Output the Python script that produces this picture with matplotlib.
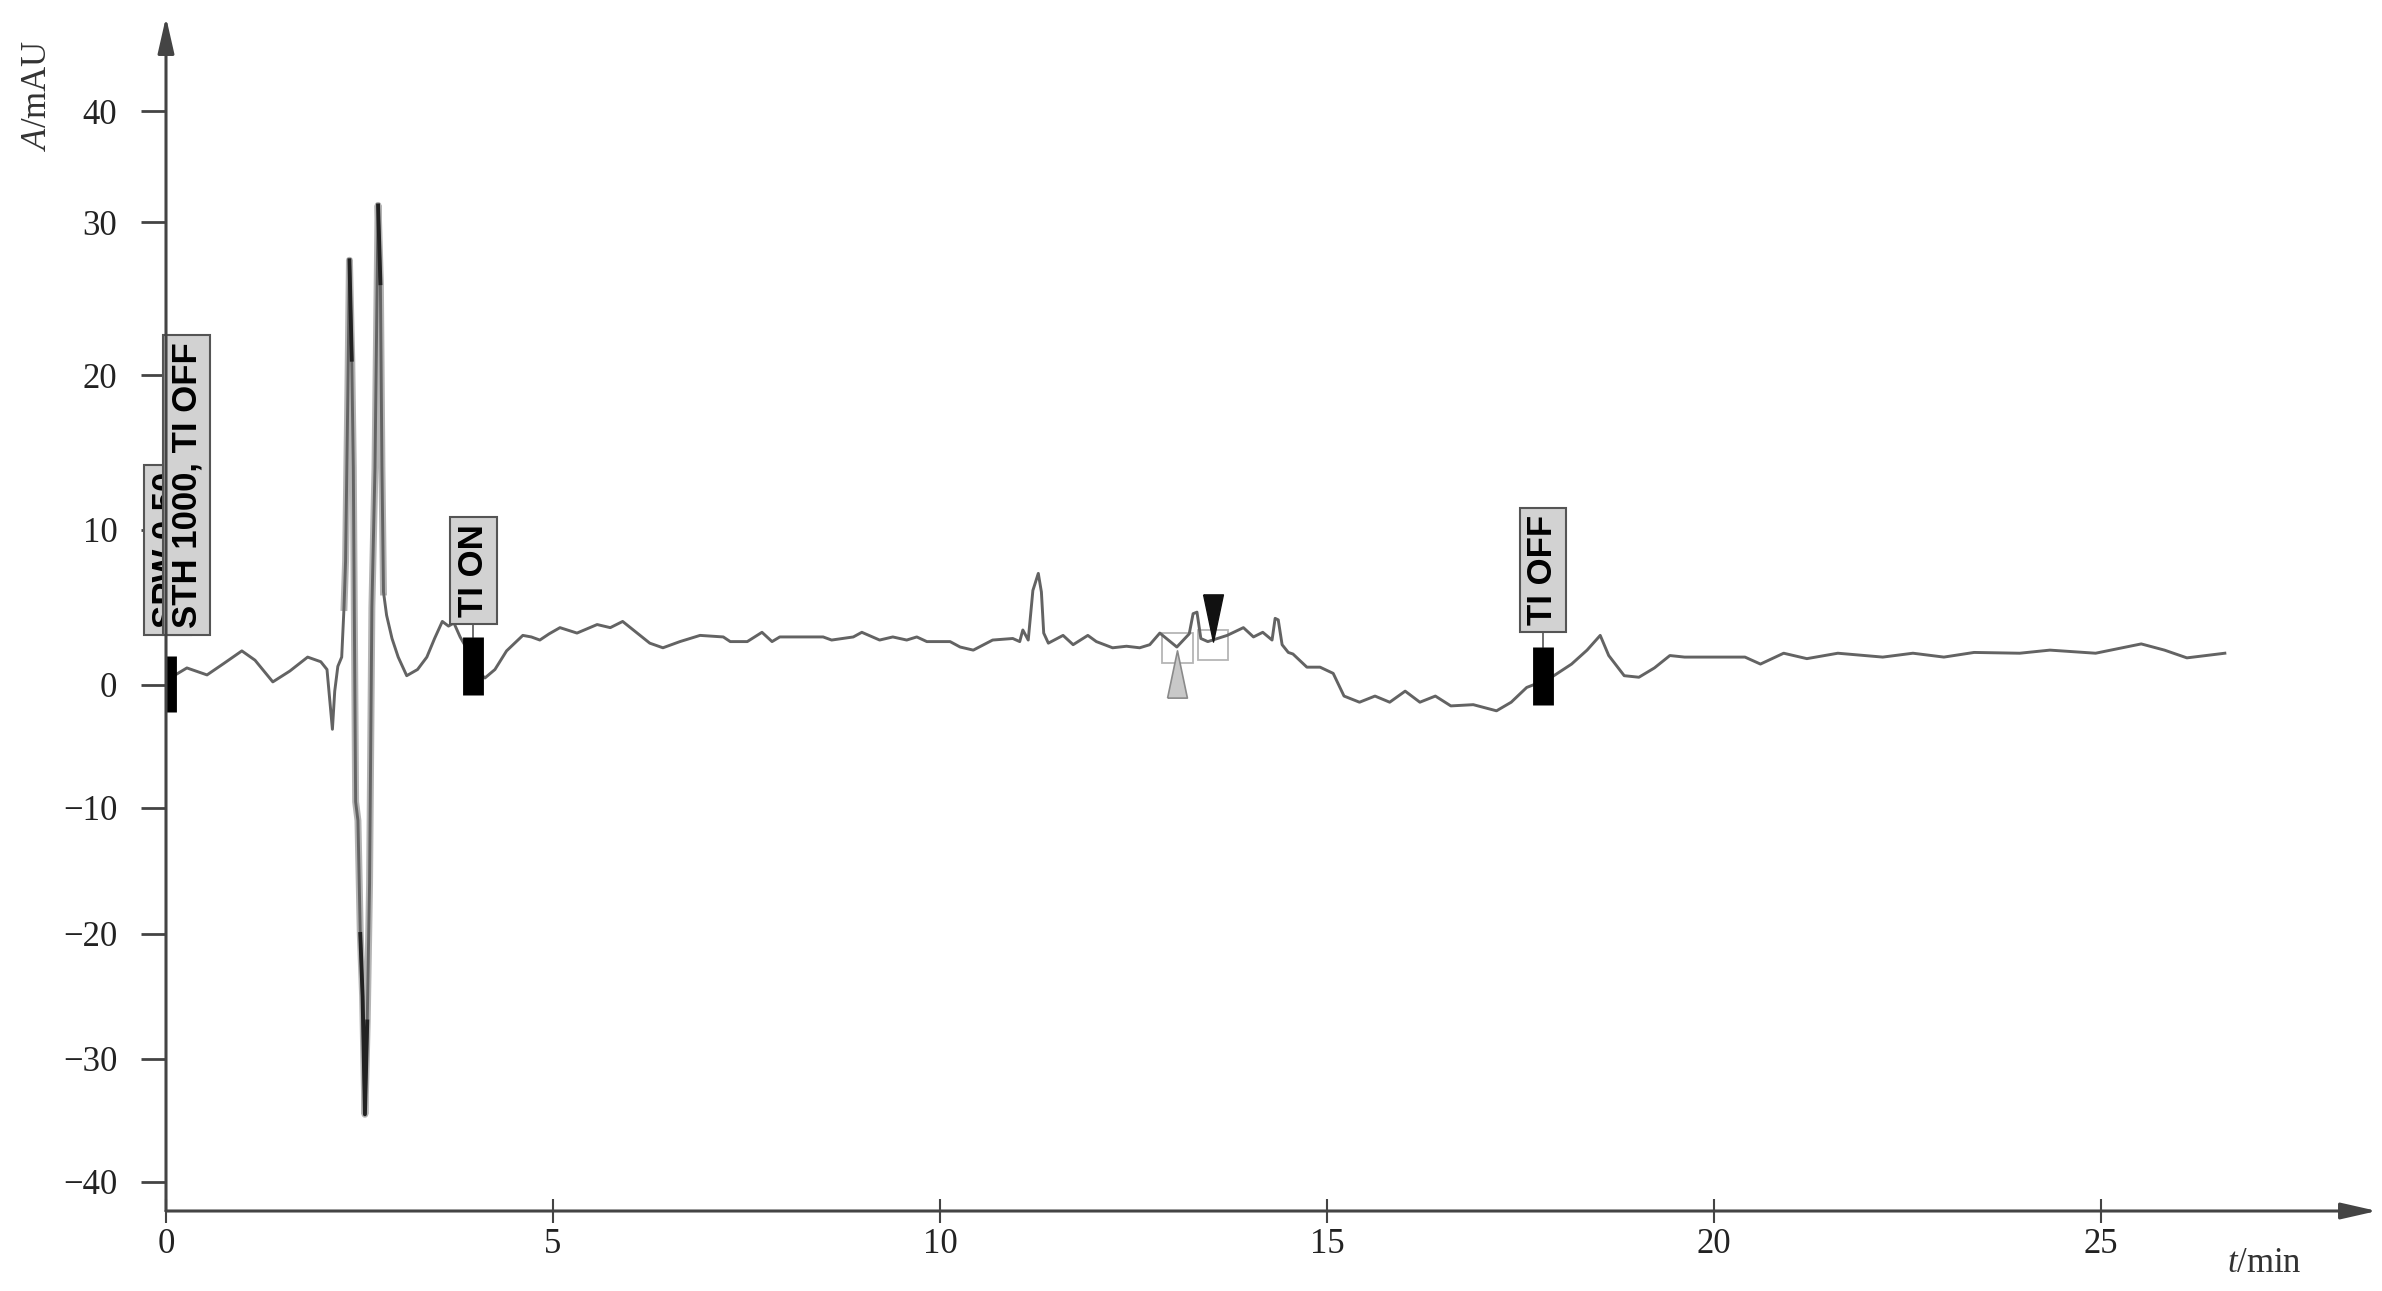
import numpy as np
import matplotlib
matplotlib.use("Agg")
import matplotlib.pyplot as plt
from matplotlib.patches import Rectangle

plt.rcParams["font.family"] = ["Liberation Serif", "DejaVu Serif"]
plt.rcParams["mathtext.fontset"] = "custom"
plt.rcParams["mathtext.rm"] = "Liberation Serif"
plt.rcParams["mathtext.it"] = "Liberation Serif:italic"

# chromatogram trace (t/min, A/mAU)
time_min = [0.05, 0.12, 0.27, 0.53, 0.75, 0.98, 1.15, 1.38, 1.6, 1.83, 2.0, 2.08,
            2.12, 2.15, 2.18, 2.22, 2.27, 2.30, 2.32, 2.35, 2.37, 2.40, 2.42, 2.45,
            2.48, 2.51, 2.54, 2.57, 2.60, 2.63, 2.66, 2.70, 2.74, 2.77, 2.79, 2.81,
            2.85, 2.92, 3.0, 3.11, 3.25, 3.37, 3.47, 3.57, 3.65, 3.72, 3.80, 3.95,
            4.05, 4.12, 4.25, 4.40, 4.61, 4.72, 4.83, 4.95, 5.09, 5.31, 5.57, 5.74,
            5.90, 6.25, 6.42, 6.64, 6.90, 7.20, 7.29, 7.51, 7.70, 7.83, 7.93, 8.49,
            8.60, 8.88, 8.99, 9.22, 9.39, 9.57, 9.70, 9.83, 10.13, 10.26, 10.43, 10.68,
            10.94, 11.03, 11.07, 11.14, 11.20, 11.27, 11.31, 11.34, 11.40, 11.59, 11.72, 11.91,
            12.02, 12.23, 12.41, 12.58, 12.71, 12.84, 13.06, 13.22, 13.27, 13.32, 13.37, 13.46,
            13.71, 13.92, 14.05, 14.17, 14.29, 14.33, 14.37, 14.42, 14.50, 14.56, 14.74, 14.91,
            15.08, 15.22, 15.42, 15.62, 15.81, 16.01, 16.20, 16.40, 16.60, 16.89, 17.19, 17.38,
            17.58, 17.87, 18.16, 18.36, 18.53, 18.64, 18.84, 19.03, 19.23, 19.43, 19.62, 20.01,
            20.40, 20.60, 20.90, 21.20, 21.60, 22.18, 22.57, 22.97, 23.36, 23.95, 24.34, 24.93,
            25.52, 25.82, 26.11, 26.60]
absorb = [0.6, 0.65, 1.1, 0.65, 1.4, 2.2, 1.6, 0.2, 0.9, 1.8, 1.5, 1.0,
          -1.5, -3.6, -0.5, 1.2, 1.8, 5.0, 8.0, 19.0, 27.5, 21.0, 14.0, -9.5,
          -11.0, -20.0, -25.0, -34.5, -27.0, -16.0, 5.0, 14.0, 31.5, 26.0, 14.0, 6.0,
          4.5, 3.0, 1.8, 0.6, 1.0, 1.8, 3.0, 4.1, 3.8, 4.0, 3.1, 1.8,
          0.8, 0.45, 1.0, 2.2, 3.2, 3.1, 2.9, 3.3, 3.7, 3.35, 3.9, 3.7,
          4.1, 2.7, 2.4, 2.8, 3.2, 3.1, 2.8, 2.8, 3.4, 2.8, 3.1, 3.1,
          2.9, 3.1, 3.4, 2.9, 3.1, 2.9, 3.1, 2.8, 2.8, 2.45, 2.25, 2.9,
          3.0, 2.8, 3.55, 2.9, 6.1, 7.2, 6.0, 3.35, 2.7, 3.2, 2.6, 3.2,
          2.8, 2.4, 2.5, 2.4, 2.6, 3.35, 2.45, 3.3, 4.6, 4.7, 3.0, 2.8,
          3.2, 3.7, 3.1, 3.4, 2.9, 4.3, 4.2, 2.6, 2.1, 2.0, 1.15, 1.15,
          0.75, -0.9, -1.4, -0.9, -1.4, -0.5, -1.4, -0.9, -1.7, -1.6, -2.1, -1.4,
          -0.2, 0.4, 1.35, 2.25, 3.2, 1.9, 0.6, 0.5, 1.1, 1.9, 1.8, 1.8,
          1.8, 1.35, 2.05, 1.7, 2.05, 1.8, 2.05, 1.8, 2.1, 2.05, 2.25, 2.05,
          2.65, 2.25, 1.75, 2.05]

# timed events (black bars on the trace) and their labels
event_times = [0.0, 3.96, 17.79]
event_top = [1.9, 3.1, 2.45]
event_bottom = [-2.2, -0.8, -1.6]
label_texts = ["SPW 0.50", "STH 1000, TI OFF", "TI ON", "TI OFF"]
label_x = [0.02, 0.27, 3.97, 17.79]
label_y = [8.7, 12.9, 7.4, 7.4]

# integration marks around 13 min
mark_times = [13.06, 13.53]
mark_levels = [0.74, 4.3]
win_start = [12.87, 13.33]
win_end = [13.27, 13.72]
win_low = [1.4, 1.6]
win_high = [3.35, 3.55]

x_ticks = [0, 5, 10, 15, 20, 25]
y_ticks = [-40, -30, -20, -10, 0, 10, 20, 30, 40]

# the printed y axis is not evenly spaced, so use a piecewise scale
knot_vals = np.array([-50, -40, -30, -20, -10, 0, 10, 20, 30, 40, 50], dtype=float)
knot_pos = -np.array([1305, 1182, 1059, 934, 808, 685, 530, 375, 222, 111, 0], dtype=float)


def fwd(v):
    return np.interp(v, knot_vals, knot_pos)


def inv(p):
    return np.interp(p, knot_pos, knot_vals)


fig = plt.figure(figsize=(23.82, 12.91), dpi=100)
ax = fig.add_axes([166 / 2382, 1 - 1211 / 1291, (2377 - 166) / 2382, (1211 - 17) / 1291])
ax.set_yscale("function", functions=(fwd, inv))
ax.set_xlim(0, (2377 - 166) / 77.4)
ax.set_ylim(-42.36, 48.47)

for s in ax.spines.values():
    s.set_visible(False)

axis_col = "#444444"
arrow = dict(arrowstyle="-|>,head_length=1.1,head_width=0.25", mutation_scale=20,
             lw=2.2, color=axis_col, shrinkA=0, shrinkB=0)
ax.annotate("", xy=(1, 0), xytext=(0, 0), xycoords="axes fraction", arrowprops=arrow, zorder=8)
ax.annotate("", xy=(0, 1), xytext=(0, 0), xycoords="axes fraction", arrowprops=arrow, zorder=8)

ax.set_xticks(x_ticks)
ax.set_yticks(y_ticks)
ax.tick_params(axis="y", direction="out", length=18, width=2, color=axis_col,
               pad=17, labelsize=25, labelcolor="#222222")
ax.tick_params(axis="x", direction="inout", length=17, width=1.5, color=axis_col,
               pad=4, labelsize=25, labelcolor="#222222")

# trace
t_arr = np.array(time_min)
a = np.array(absorb)
spike = (t_arr >= 2.28) & (t_arr <= 2.84)
ax.plot(t_arr, np.where(spike, a, np.nan), color="#b4b4b4", lw=5, zorder=2.5)
ax.plot(time_min, absorb, color="#636363", lw=2.1, zorder=3)
ax.plot(time_min, np.where(np.abs(a) > 19, a, np.nan), color="#222222", lw=2.8, zorder=4)

# event bars + connectors
for t, lo, hi, ly in zip(event_times, event_bottom, event_top, label_y[1:]):
    ax.plot([t, t], [hi, ly], color="#555555", lw=1.2, zorder=4)
    ax.plot([t, t], [lo, hi], color="black", lw=15, solid_capstyle="butt", zorder=5)

for i, (txt, x, y) in enumerate(zip(label_texts, label_x, label_y)):
    ax.text(x, y, txt, rotation=90, ha="center", va="center", fontsize=25,
            fontweight="bold", family="Liberation Sans", color="black",
            bbox=dict(boxstyle="square,pad=0.2", fc="#d2d2d2", ec="#555555", lw=1.5),
            zorder=6 + i * 0.1)

# integration windows and start/end marks
for s, e, lo, hi in zip(win_start, win_end, win_low, win_high):
    ax.add_patch(Rectangle((s, lo), e - s, hi - lo, fill=False, ec="#b5b5b5", lw=1.3, zorder=2))

up_tri = [(-0.21, -0.5), (0.21, -0.5), (0, 0.5), (-0.21, -0.5)]
down_tri = [(-0.21, 0.5), (0.21, 0.5), (0, -0.5), (-0.21, 0.5)]
ax.plot(mark_times[0], mark_levels[0], marker=up_tri, ms=34, mfc="#c8c8c8",
        mec="#8a8a8a", mew=1.2, ls="none", zorder=5)
ax.plot(mark_times[1], mark_levels[1], marker=down_tri, ms=34, mfc="#111111",
        mec="#111111", mew=1.0, ls="none", zorder=5)

fig.text(38 / 2382, 1 - 95 / 1291, r"$A$/mAU", rotation=90, ha="center", va="center",
         fontsize=25, color="#333333")
fig.text(2227 / 2382, 1 - 1263 / 1291, r"$t$/min", ha="left", va="center",
         fontsize=25, color="#333333")

fig.savefig("out.png", dpi=100)
